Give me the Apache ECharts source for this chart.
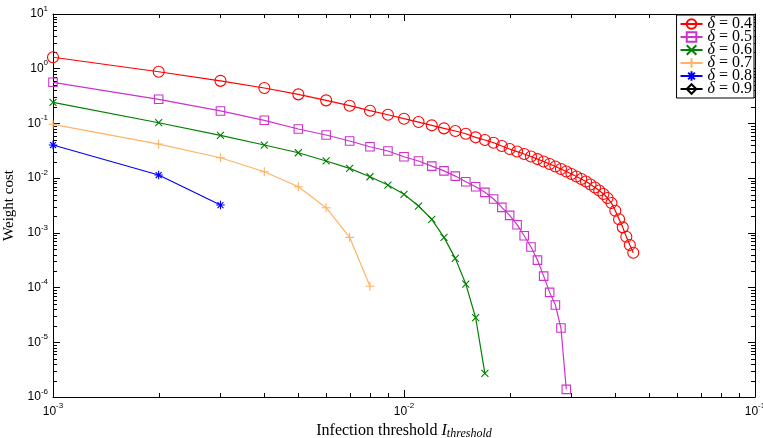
<!DOCTYPE html>
<html><head><meta charset="utf-8">
<script src="https://cdn.jsdelivr.net/npm/echarts@6/dist/echarts.min.js"></script>
<style>html,body{margin:0;padding:0;background:#fff}#c{width:763px;height:438px}</style>
</head><body><div id="c"></div>
<script>
// Infection thresholds (x values)
const thresholds = [0.001,0.002,0.003,0.004,0.005,0.006,0.007,0.008,0.009,0.010,
  0.011,0.012,0.013,0.014,0.015,0.016,0.017,0.018,0.019,0.020,
  0.021,0.022,0.023,0.024,0.025,0.026,0.027,0.028,0.029,0.030,
  0.031,0.032,0.033,0.034,0.035,0.036,0.037,0.038,0.039,0.040,
  0.041,0.042,0.043,0.044,0.045];
// Weight cost for each delta
const cost04 = [1.62,0.88,0.60,0.444,0.34,0.264,0.211,0.171,0.144,0.122,
  0.106,0.0923,0.0813,0.0726,0.0648,0.0557,0.0498,0.0444,0.0386,0.0340,
  0.0306,0.0276,0.0248,0.0223,0.0201,0.0181,0.0163,0.0147,0.0132,0.0119,
  0.0107,0.00964,0.00867,0.00764,0.00673,0.00593,0.00512,0.00433,0.00351,0.00254,
  0.00177,0.00126,0.00085,0.000598,0.000433];
const cost05 = [0.564,0.276,0.169,0.114,0.079,0.0614,0.0477,0.0375,0.0313,0.0246,
  0.0206,0.0166,0.0136,0.0109,0.00859,0.00697,0.0055,0.00415,0.00292,0.00209,
  0.00141,0.000885,0.00055,0.000318,0.000162,0.0000817,0.0000479,0.0000182,0.00000138];
const cost06 = [0.243,0.103,0.0606,0.0403,0.0291,0.0206,0.0151,0.0106,0.00748,0.00506,
  0.00309,0.00177,0.000828,0.000342,0.000116,0.0000281,0.0000027];
const cost07 = [0.0964,0.042,0.0236,0.0131,0.00697,0.00288,0.000828,0.000106];
const cost08 = [0.0403,0.0114,0.00322];
const cost09 = [];
const seriesNames = ['δ = 0.4','δ = 0.5','δ = 0.6','δ = 0.7','δ = 0.8','δ = 0.9'];
const xMin = 0.001, xMax = 0.1;
const yMin = 1e-6, yMax = 10;

const colors = ['#ff0000','#cc33cc','#008000','#ffb366','#0000ff','#000000'];
const symbols = [
  'path://M10,5A5,5 0 1 1 0,5A5,5 0 1 1 10,5Z',
  'path://M0,0L10,0L10,10L0,10Z',
  'path://M0,0L10,10M10,0L0,10',
  'path://M5,0L5,10M0,5L10,5',
  'path://M5,0L5,10M0,5L10,5M1.5,1.5L8.5,8.5M8.5,1.5L1.5,8.5',
  'path://M5,0L10,5L5,10L0,5Z'
];
const sizes = [11, 8.5, 7, 9, 8.5, 10];
const allCosts = [cost04, cost05, cost06, cost07, cost08, cost09];

const chart = echarts.init(document.getElementById('c'), null, {renderer:'canvas'});
const sans = 'Liberation Sans, Arial, Helvetica, sans-serif';
const serif = 'Liberation Serif, Times New Roman, serif';
function supLabel(v){
  const e = Math.round(Math.log10(v));
  return '{b|10}{s|' + e + '}';
}
const labelRich = {
  b:{fontSize:12, fontFamily:sans, color:'#000'},
  s:{fontSize:8, fontFamily:sans, color:'#000', padding:[0,0,11,0]}
};
const series = allCosts.map((arr, i) => ({
  name: seriesNames[i],
  type: 'line',
  data: arr.map((v, j) => [thresholds[j], v]),
  symbol: symbols[i],
  symbolSize: sizes[i],
  showAllSymbol: true,
  lineStyle: {color: colors[i], width: 1.2},
  itemStyle: {color: 'rgba(0,0,0,0)', borderColor: colors[i], borderWidth: 1.1},
  emphasis: {disabled: true},
  animation: false
}));

const axisCommon = {
  axisLine: {show:true, onZero:false, lineStyle:{color:'#000', width:1}},
  axisTick: {show:true, inside:true, length:7, lineStyle:{color:'#000'}},
  splitLine: {show:false}
};

chart.setOption({
  animation: false,
  grid: {left:53, right:8, top:14, bottom:41, containLabel:false, outerBoundsMode:'none'},
  legend: {
    right: 9, top: 15, orient: 'vertical',
    data: seriesNames,
    backgroundColor: '#fff', borderColor: '#000', borderWidth: 1,
    padding: [1, 2, 1, 3], itemGap: -3, itemWidth: 22, itemHeight: 12,
    textStyle: {fontFamily: serif, fontSize: 16, lineHeight: 13, color: '#000',
      rich: {
        i:{fontFamily:serif, fontSize:16, fontStyle:'italic', color:'#000', lineHeight:13},
        r:{fontFamily:serif, fontSize:16, color:'#000', lineHeight:13}
      }},
    formatter: function(n){ return '{i|δ}{r|' + n.slice(1) + '}'; },
    selectedMode: false
  },
  xAxis: [
    Object.assign({type:'log', logBase:10, min:xMin, max:xMax, position:'bottom',
      name: '{n|Infection threshold }{i|I}{t|threshold}', nameLocation:'middle', nameGap:21,
      nameTextStyle:{rich:{
        n:{fontFamily:serif, fontSize:16, color:'#000'},
        i:{fontFamily:serif, fontSize:16, fontStyle:'italic', color:'#000'},
        t:{fontFamily:serif, fontSize:12, fontStyle:'italic', color:'#000', padding:[6,0,0,0]}
      }},
      axisLabel:{formatter:supLabel, rich:labelRich, margin:5}
    }, axisCommon),
    Object.assign({type:'log', logBase:10, min:xMin, max:xMax, position:'top',
      axisLabel:{show:false}}, axisCommon)
  ],
  yAxis: [
    Object.assign({type:'log', logBase:10, min:yMin, max:yMax, interval:1, position:'left',
      name:'Weight cost', nameLocation:'middle', nameGap:22, nameRotate:90,
      nameTextStyle:{fontFamily:serif, fontSize:15, color:'#000'},
      axisLabel:{formatter:supLabel, rich:labelRich, margin:5}
    }, axisCommon),
    Object.assign({type:'log', logBase:10, min:yMin, max:yMax, interval:1, position:'right',
      axisLabel:{show:false}}, axisCommon)
  ],
  series: series
});

// minor log ticks (2..9 within each decade) on all four sides
function minorValues(lo, hi){
  const out = [];
  for (let e = Math.round(Math.log10(lo)); e < Math.round(Math.log10(hi)); e++){
    for (let m = 2; m <= 9; m++) out.push(m * Math.pow(10, e));
  }
  return out;
}
function drawMinor(){
  const L = 4;
  const g = [];
  const xl = chart.convertToPixel({xAxisIndex:0}, xMin), xr = chart.convertToPixel({xAxisIndex:0}, xMax);
  const yb = chart.convertToPixel({yAxisIndex:0}, yMin), yt = chart.convertToPixel({yAxisIndex:0}, yMax);
  const st = {stroke:'#000', lineWidth:1};
  minorValues(xMin, xMax).forEach(v => {
    const p = Math.round(chart.convertToPixel({xAxisIndex:0}, v)) + 0.5;
    g.push({type:'line', silent:true, shape:{x1:p, y1:yb, x2:p, y2:yb-L}, style:st});
    g.push({type:'line', silent:true, shape:{x1:p, y1:yt, x2:p, y2:yt+L}, style:st});
  });
  minorValues(yMin, yMax).forEach(v => {
    const p = Math.round(chart.convertToPixel({yAxisIndex:0}, v)) + 0.5;
    g.push({type:'line', silent:true, shape:{x1:xl, y1:p, x2:xl+L, y2:p}, style:st});
    g.push({type:'line', silent:true, shape:{x1:xr, y1:p, x2:xr-L, y2:p}, style:st});
  });
  chart.setOption({graphic: g});
}
drawMinor();
</script></body></html>
